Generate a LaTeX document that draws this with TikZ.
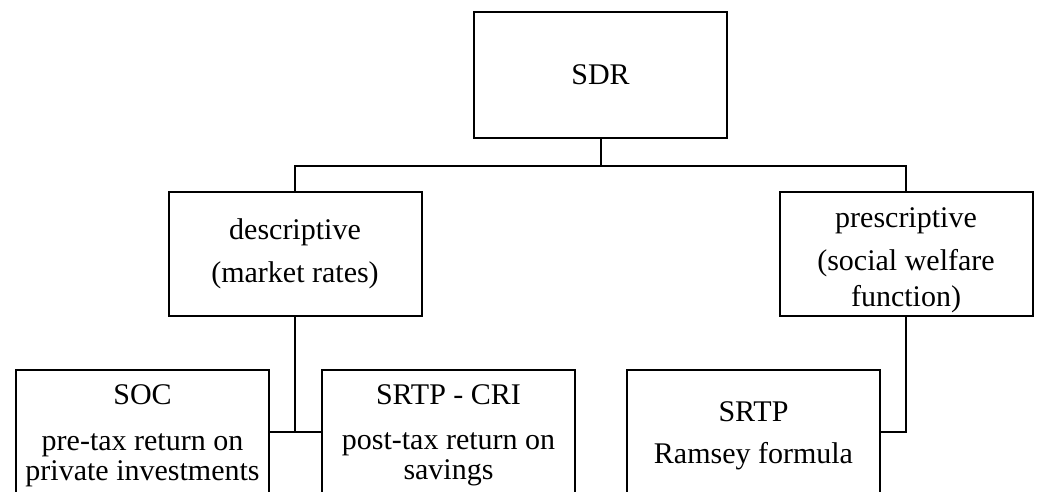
\documentclass[tikz,border=0pt]{standalone}
\usepackage{fontspec}
\setmainfont{Liberation Serif}
\usepackage{tikz}
\usetikzlibrary{positioning,calc}
\newcommand{\lift}[1]{\rule{0pt}{#1}}

\begin{document}
\begin{tikzpicture}[x=0.5pt,y=-0.5pt,font=\fontsize{15}{16.5}\selectfont,
  box/.style={draw,line width=1pt,align=center,inner sep=0pt,minimum width=126.5pt,minimum height=62pt},
  link/.style={line width=1pt}]
\useasboundingbox (0,0) rectangle (1038,492);
\clip (0,0) rectangle (1038,492);
\node[box,minimum height=63pt] (sdr) at (600.5,75) {SDR};
\node[box] (desc) at (295,254) {descriptive\\[5pt](market rates)};
\node[box] (presc) at (906,254) {\lift{16pt}prescriptive\\[5pt](social welfare\\[1.5pt]function)};
\node[box] (soc) at (142.5,432) {\lift{13.5pt}SOC\\[6.5pt]pre-tax return on\\[-1.5pt]private investments};
\node[box] (cri) at (448.5,432) {\lift{13.5pt}SRTP - CRI\\[6pt]post-tax return on\\[-1.5pt]savings};
\node[box] (srtp) at (753.5,432) {\lift{13.5pt}SRTP\\[4.5pt]Ramsey formula};
\draw[link] (sdr.south) -- ++(0,27) coordinate (split);
\draw[link] (desc.north) |- (split) -| (presc.north);
\draw[link] (desc.south) -- (desc.south |- soc.east);
\draw[link] (soc.east) -- (cri.west);
\draw[link] (presc.south) |- (srtp.east);
\end{tikzpicture}
\end{document}
